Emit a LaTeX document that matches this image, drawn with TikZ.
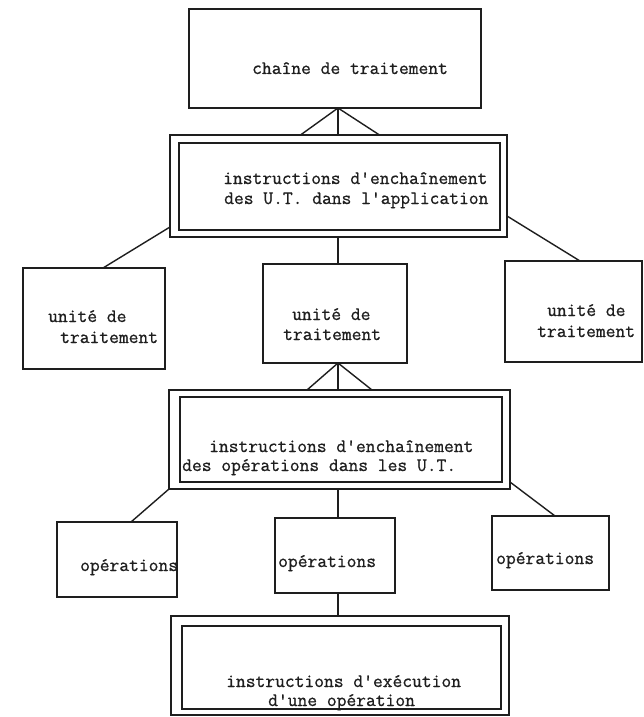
\documentclass[tikz,border=0pt]{standalone}
\usepackage{fontspec}
\setmonofont{Latin Modern Mono}[FakeBold=0.8]
\usetikzlibrary{calc}

\tikzset{
  frame/.style={draw=ink, line width=1.5pt, inner sep=0pt, outer sep=0pt, rectangle},
  innerframe/.style={draw=ink, line width=1.3pt, inner sep=0pt, outer sep=0pt, rectangle},
  link/.style={draw=ink, line width=1.4pt},
  label/.style={anchor=west, inner sep=0pt, text height=11pt, text depth=3pt,
    font=\fontsize{19}{21}\selectfont\ttfamily, text=ink},
}
\definecolor{ink}{HTML}{1E1E1E}

\begin{document}
\begin{tikzpicture}[x=1pt, y=-1pt]
  \useasboundingbox (0,0) rectangle (643,717);
  \fill[white] (0,0) rectangle (643,717);

  % top level: processing chain
  \node[frame, minimum width=292pt, minimum height=99pt] (chain) at (335,58.5) {};
  \node[label] (chaintxt) at (252,70) {chaîne de traitement};

  % sequencing of processing units
  \node[frame, minimum width=337pt, minimum height=102pt] (seqA) at (338.5,186) {};
  \node[innerframe, minimum width=321pt, minimum height=87pt] (seqAin) at (339.5,186.5) {};
  \node[label] (seqAl1) at (223,180) {instructions d'enchaînement};
  \node[label] (seqAl2) at (224,200) {des U.T. dans l'application};

  % processing units
  \node[frame, minimum width=142pt, minimum height=101pt] (utL) at (94,318.5) {};
  \node[label] (utLl1) at (48,318) {unité de};
  \node[label] (utLl2) at (60,339) {traitement};

  \node[frame, minimum width=144pt, minimum height=99pt] (utM) at (335,313.5) {};
  \node[label] (utMl1) at (292,316) {unité de};
  \node[label] (utMl2) at (283,336) {traitement};

  \node[frame, minimum width=137pt, minimum height=101pt] (utR) at (573.5,311.5) {};
  \node[label] (utRl1) at (547,312) {unité de};
  \node[label] (utRl2) at (537,333) {traitement};

  % sequencing of operations
  \node[frame, minimum width=341pt, minimum height=99pt] (seqB) at (339.5,439.5) {};
  \node[innerframe, minimum width=322pt, minimum height=85pt] (seqBin) at (341,439.5) {};
  \node[label] (seqBl1) at (209,448) {instructions d'enchaînement};
  \node[label] (seqBl2) at (182,467) {des opérations dans les U.T.};

  % operations
  \node[frame, minimum width=120pt, minimum height=75pt] (opL) at (117,559.5) {};
  \node[label] (opLtxt) at (80,567) {opérations};
  \node[frame, minimum width=120pt, minimum height=75pt] (opM) at (335,555.5) {};
  \node[label] (opMtxt) at (278,563) {opérations};
  \node[frame, minimum width=117pt, minimum height=74pt] (opR) at (550.5,553) {};
  \node[label] (opRtxt) at (496,560) {opérations};

  % execution of one operation
  \node[frame, minimum width=338pt, minimum height=99pt] (exec) at (340,665.5) {};
  \node[innerframe, minimum width=319pt, minimum height=83pt] (execin) at (341.5,667.5) {};
  \node[label] (execl1) at (226,683) {instructions d'exécution};
  \node[label] (execl2) at (268,702) {d'une opération};

  % fork between chain and its sequencing box
  \coordinate (apexA) at ([xshift=3pt]chain.south);
  \draw[link] ([xshift=-38pt]seqA.north) -- (apexA) -- ([xshift=41pt]seqA.north);
  \draw[link] (apexA) -- (apexA |- seqA.north);

  % links to processing units
  \draw[link] ([yshift=10pt]seqA.south west) -- ([xshift=9pt]utL.north);
  \draw[link] (seqA.south -| apexA) -- (apexA |- utM.north);
  \draw[link] ([yshift=-30pt]seqA.east) -- ([xshift=6.5pt]utR.north);

  % fork between the middle unit and its sequencing box
  \coordinate (apexB) at ([xshift=3pt]utM.south);
  \draw[link] ([xshift=-32.5pt]seqB.north) -- (apexB) -- ([xshift=32.5pt]seqB.north);
  \draw[link] (apexB) -- (apexB |- seqB.north);

  % links to operations
  \draw[link] (seqB.south west) -- ([xshift=14pt]opL.north);
  \draw[link] (seqB.south -| apexB) -- (apexB |- opM.north);
  \draw[link] ([yshift=-42.5pt]seqB.east) -- ([xshift=4.5pt]opR.north);

  % link from the middle operation to its execution box
  \draw[link] (opM.south -| apexB) -- (apexB |- exec.north);
\end{tikzpicture}
\end{document}
